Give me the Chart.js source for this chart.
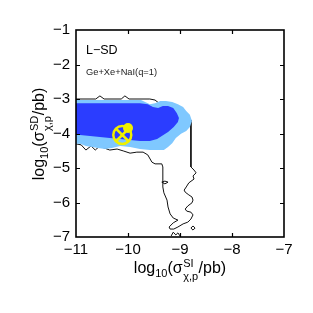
<!DOCTYPE html>
<html><head><meta charset="utf-8">
<script src="https://cdn.jsdelivr.net/npm/chart.js@4.4.1/dist/chart.umd.min.js"></script>
<style>html,body{margin:0;padding:0;background:#fff;}#wrap{width:313px;height:313px;}</style>
</head><body><div id="wrap"><canvas id="c" width="313" height="313"></canvas></div>
<script>
// ---- axis ticks ----
const xTicks = [-11, -10, -9, -8, -7];
const xTickLabels = ['−11', '−10', '−9', '−8', '−7'];
const yTicks = [-1, -2, -3, -4, -5, -6, -7];
const yTickLabels = ['−1', '−2', '−3', '−4', '−5', '−6', '−7'];

// ---- outer (black) contour ----
const contourX = [-11.00,-10.62,-10.54,-10.46,-10.13,-10.06,-9.98,-9.58,-9.48,-9.38,-9.19,-9.00,-8.87,-8.79,-8.79,-8.73,-8.69,-8.75,-8.73,-8.83,-8.88,-8.92,-8.90,-8.83,-8.77,-8.75,-8.77,-8.85,-8.90,-8.87,-8.79,-8.75,-8.79,-8.85,-8.94,-9.04,-9.12,-9.19,-9.21,-9.13,-9.04,-9.13,-9.19,-9.23,-9.25,-9.31,-9.33,-9.33,-9.33,-9.35,-9.48,-9.54,-9.62,-9.71,-9.83,-9.96,-10.08,-10.21,-10.35,-10.46,-10.54,-10.63,-10.71,-10.81,-10.90,-11.00];
const contourY = [-3.00,-3.00,-2.91,-3.00,-3.00,-2.91,-3.00,-3.00,-3.03,-3.15,-3.20,-3.32,-3.43,-3.61,-4.97,-5.06,-5.14,-5.23,-5.32,-5.43,-5.55,-5.64,-5.70,-5.78,-5.84,-5.93,-6.01,-6.10,-6.19,-6.25,-6.28,-6.36,-6.48,-6.57,-6.62,-6.71,-6.77,-6.77,-6.71,-6.59,-6.51,-6.45,-6.33,-6.13,-5.93,-5.72,-5.55,-5.35,-4.97,-4.88,-4.88,-4.83,-4.62,-4.54,-4.54,-4.57,-4.51,-4.45,-4.48,-4.42,-4.36,-4.48,-4.36,-4.48,-4.33,-4.30];

// small contour islands
const loopAX = [-9.35,-9.29,-9.23,-9.29,-9.35];
const loopAY = [-5.41,-5.38,-5.41,-5.46,-5.41];
const loopBX = [-8.79,-8.75,-8.71,-8.75,-8.79];
const loopBY = [-6.74,-6.68,-6.74,-6.80,-6.74];
const loopCX = [-9.17,-9.13,-9.08,-9.04,-9.00];
const loopCY = [-6.97,-6.86,-6.94,-6.88,-6.97];

// ---- 95% region (light blue) ----
const lightX = [-11.00,-9.75,-9.67,-9.58,-9.48,-9.38,-9.27,-9.15,-9.04,-8.94,-8.88,-8.81,-8.77,-8.81,-8.88,-8.98,-9.08,-9.15,-9.23,-9.31,-9.58,-9.77,-9.96,-10.15,-10.31,-10.44,-10.58,-10.69,-10.81,-10.92,-11.00];
const lightY = [-3.03,-3.03,-3.09,-3.15,-3.12,-3.06,-3.06,-3.09,-3.15,-3.23,-3.35,-3.46,-3.64,-3.81,-3.93,-4.01,-4.13,-4.28,-4.39,-4.48,-4.48,-4.45,-4.39,-4.36,-4.42,-4.45,-4.42,-4.39,-4.36,-4.30,-4.30];

// ---- 68% region (dark blue) ----
const darkX = [-11.00,-9.77,-9.62,-9.52,-9.42,-9.33,-9.23,-9.13,-9.06,-9.02,-9.04,-9.12,-9.23,-9.35,-9.44,-9.58,-9.77,-9.96,-10.15,-10.35,-10.54,-10.73,-10.92,-11.00];
const darkY = [-3.12,-3.12,-3.15,-3.23,-3.26,-3.20,-3.20,-3.26,-3.41,-3.55,-3.67,-3.81,-3.96,-4.07,-4.16,-4.22,-4.22,-4.19,-4.16,-4.13,-4.10,-4.07,-4.04,-4.04];

// ---- markers ----
const benchX = [-10.11];   // circled cross
const benchY = [-4.04];
const bestX = [-10.00];    // filled dot
const bestY = [-3.84];

const FONT = "'Liberation Sans', Arial, Helvetica, sans-serif";
const YEL = '#f0f000';
const pts = (xs, ys) => xs.map((x, i) => ({x, y: ys[i]}));
const lineDs = (xs, ys, order) => ({type:'line', data: pts(xs, ys), borderColor:'#111', borderWidth:1, pointRadius:0, fill:false, tension:0, order});

const framePlugin = {
  id: 'frame',
  afterDatasetsDraw(chart) {
    const {ctx, chartArea: a, scales: {x, y}} = chart;
    ctx.save();
    ctx.strokeStyle = '#000';
    ctx.lineWidth = 1.2;
    const tl = 4;
    ctx.beginPath();
    xTicks.forEach(v => {
      if (v === x.min || v === x.max) return;
      const p = Math.round(x.getPixelForValue(v)) + 0.5;
      ctx.moveTo(p, a.bottom); ctx.lineTo(p, a.bottom - tl);
      ctx.moveTo(p, a.top); ctx.lineTo(p, a.top + tl);
    });
    yTicks.forEach(v => {
      if (v === y.min || v === y.max) return;
      const p = Math.round(y.getPixelForValue(v)) + 0.5;
      ctx.moveTo(a.left, p); ctx.lineTo(a.left + tl, p);
      ctx.moveTo(a.right, p); ctx.lineTo(a.right - tl, p);
    });
    ctx.stroke();
    ctx.lineWidth = 1.6;
    ctx.strokeRect(a.left, a.top, a.right - a.left, a.bottom - a.top);
    ctx.restore();
  },
  afterDraw(chart) {
    const ctx = chart.ctx;
    ctx.save();
    ctx.fillStyle = '#000';
    ctx.textBaseline = 'middle';
    ctx.textAlign = 'left';
    ctx.font = `12.5px ${FONT}`;
    ctx.fillText('L−SD', 86, 51);
    ctx.font = `9.3px ${FONT}`;
    ctx.fillStyle = '#222';
    ctx.fillText('Ge+Xe+NaI(q=1)', 86, 72);
    ctx.fillStyle = '#000';
    ctx.textBaseline = 'alphabetic';

    function drawTitle(sup, cx, baseY) {
      const parts = [
        {t:'log', s:16, dy:0},
        {t:'10', s:11, dy:4},
        {t:'(σ', s:16, dy:0},
        {sup: sup, sub: 'χ,p', s:11},
        {t:'/pb)', s:16, dy:0}
      ];
      let w = 0;
      parts.forEach(p => {
        ctx.font = `${p.s}px ${FONT}`;
        if (p.t) p.w = ctx.measureText(p.t).width;
        else p.w = Math.max(ctx.measureText(p.sup).width, ctx.measureText(p.sub).width) + 1;
        w += p.w;
      });
      let xx = cx - w / 2;
      parts.forEach(p => {
        ctx.font = `${p.s}px ${FONT}`;
        if (p.t) ctx.fillText(p.t, xx, baseY + p.dy);
        else {
          ctx.fillText(p.sup, xx + 0.5, baseY - 6);
          ctx.fillText(p.sub, xx + 0.5, baseY + 7);
        }
        xx += p.w;
      });
    }
    drawTitle('SI', 180, 273);
    ctx.translate(44, 134);
    ctx.rotate(-Math.PI / 2);
    drawTitle('SD', 0, 0);
    ctx.restore();
  }
};

new Chart(document.getElementById('c'), {
  type: 'scatter',
  data: {
    datasets: [
      {type:'scatter', data: pts(bestX, bestY), pointStyle:'circle', pointRadius:5, backgroundColor:YEL, borderColor:YEL, borderWidth:0, order:1},
      {type:'scatter', data: pts(benchX, benchY), pointStyle:'crossRot', pointRadius:9, borderColor:YEL, borderWidth:2.5, order:2},
      {type:'scatter', data: pts(benchX, benchY), pointStyle:'circle', pointRadius:9, backgroundColor:'rgba(0,0,0,0)', borderColor:YEL, borderWidth:2.5, order:3},
      {type:'line', data: pts(darkX, darkY), backgroundColor:'#2b3dff', borderColor:'#2b3dff', borderWidth:0, pointRadius:0, fill:'shape', tension:0, order:5},
      {type:'line', data: pts(lightX, lightY), backgroundColor:'#7fc8ff', borderColor:'#7fc8ff', borderWidth:0, pointRadius:0, fill:'shape', tension:0, order:6},
      lineDs(contourX, contourY, 7),
      lineDs(loopAX, loopAY, 7),
      lineDs(loopBX, loopBY, 7),
      lineDs(loopCX, loopCY, 7)
    ]
  },
  options: {
    responsive: false,
    animation: false,
    devicePixelRatio: 1,
    layout: {padding: {top: 30, right: 29, left: 0, bottom: 0}},
    plugins: {legend: {display: false}, tooltip: {enabled: false}},
    scales: {
      x: {
        type: 'linear', min: -11, max: -7,
        afterBuildTicks: s => { s.ticks = xTicks.map(v => ({value: v})); },
        afterFit: s => { s.height = 76; },
        ticks: {callback: v => xTickLabels[xTicks.indexOf(v)], font: {family: FONT, size: 15}, color: '#000', padding: 4, maxRotation: 0, autoSkip: false},
        grid: {display: false, drawTicks: false},
        border: {display: false}
      },
      y: {
        type: 'linear', min: -7, max: -1,
        afterBuildTicks: s => { s.ticks = yTicks.map(v => ({value: v})); },
        afterFit: s => { s.width = 76; },
        ticks: {callback: v => yTickLabels[yTicks.indexOf(v)], font: {family: FONT, size: 15}, color: '#000', padding: 6, autoSkip: false},
        grid: {display: false, drawTicks: false},
        border: {display: false}
      }
    }
  },
  plugins: [framePlugin]
});
</script>
</body></html>
